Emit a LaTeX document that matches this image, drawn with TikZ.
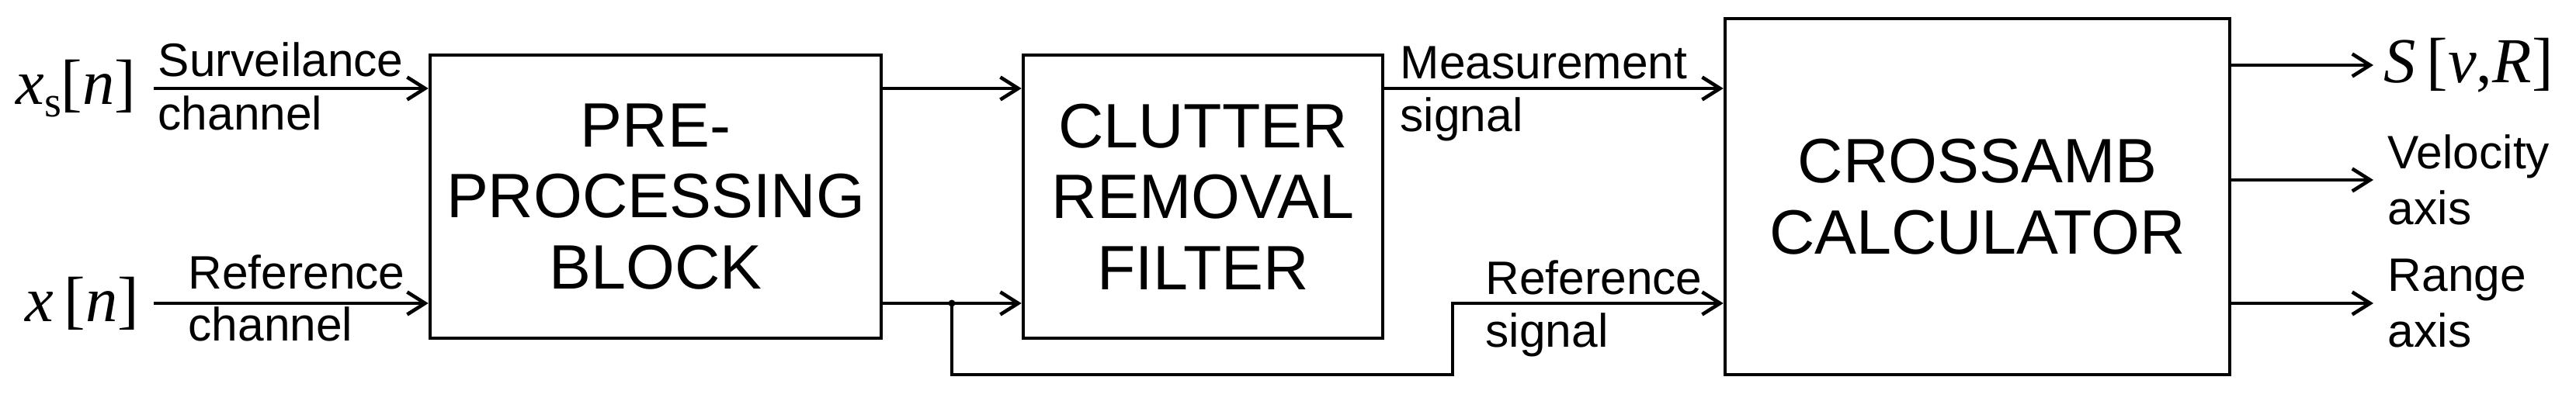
\documentclass[tikz,border=0pt]{standalone}
\usepackage{fontspec}
\setmainfont{Liberation Sans}
\newfontfamily\sigfont{Liberation Serif}
\usetikzlibrary{arrows.meta}

\tikzset{
  block/.style={draw, line width=1.3pt, inner sep=0pt, align=center,
    font=\fontsize{23}{26}\selectfont},
  sig/.style={line width=1.3pt,
    -{Straight Barb[length=2.3mm,width=2.9mm,line width=1.3pt]}},
  wire/.style={line width=1.3pt},
  lbl/.style={inner sep=0pt, font=\fontsize{17.2}{20.5}\selectfont},
  sym/.style={inner ysep=0pt, font=\sigfont\fontsize{23.5}{24}\selectfont},
}

\begin{document}
\begin{tikzpicture}[%
      x=1cm, y=1cm,
      ]
      \useasboundingbox (0,0) rectangle (33.18,5.26);

      % blocks
      \node[block, minimum width=5.81cm, minimum height=3.65cm] (preproc) at (8.445,2.725) {PRE-\\PROCESSING\\BLOCK};
      \node[block, minimum width=4.63cm, minimum height=3.65cm] (clutter) at (15.495,2.725) {CLUTTER\\REMOVAL\\FILTER};
      \node[block, minimum width=6.50cm, minimum height=4.59cm] (crossamb) at (25.47,2.725) {CROSSAMB\\CALCULATOR};

      \coordinate (upper) at (0,4.12);
      \coordinate (lower) at (0,1.35);

      % inputs
      \node[sym, anchor=east, inner xsep=2.2mm] (xs) at (1.98,4.12) {\itshape x\raisebox{-0.2em}{\upshape\fontsize{16}{16}\selectfont s}\upshape[\itshape n\upshape]};
      \node[sym, anchor=east, inner xsep=1.8mm] (xr) at (1.98,1.35) {\itshape x\,\upshape[\itshape n\upshape]};
      \draw[sig] (xs) -- (preproc.west |- xs);
      \draw[sig] (xr) -- (preproc.west |- xr);
      \node[lbl, anchor=base west] (survtop) at (2.03,4.27) {Surveilance};
      \node[lbl, anchor=base west] (survbot) at (2.03,3.58) {channel};
      \node[lbl, anchor=base west] (reftop) at (2.42,1.53) {Reference};
      \node[lbl, anchor=base west] (refbot) at (2.42,0.86) {channel};

      % between the blocks
      \draw[sig] (preproc.east |- upper) -- (clutter.west |- upper);
      \draw[sig] (preproc.east |- lower) -- (clutter.west |- lower);
      \coordinate (split) at (12.26,1.35);
      \coordinate (bus) at (18.71,0.43);
      \fill (split) circle (0.045);
      \draw[sig] (split) |- (bus) |- (crossamb.west |- lower);
      \draw[sig] (clutter.east |- upper) -- (crossamb.west |- upper);
      \node[lbl, anchor=base west] (meastop) at (18.03,4.24) {Measurement};
      \node[lbl, anchor=base west] (measbot) at (18.03,3.56) {signal};
      \node[lbl, anchor=base west] (rstop) at (19.13,1.46) {Reference};
      \node[lbl, anchor=base west] (rsbot) at (19.13,0.78) {signal};

      % outputs
      \node[sym, anchor=west, inner xsep=1.3mm] (amb) at (30.57,4.42) {\itshape S\,\upshape[\itshape v\upshape,\itshape R\upshape]};
      \node[lbl, anchor=west, align=left, inner xsep=1.8mm] (vel) at (30.57,2.94) {Velocity\\axis};
      \node[lbl, anchor=west, align=left, inner xsep=1.8mm] (rng) at (30.57,1.35) {Range\\axis};
      \draw[sig] (crossamb.east |- amb) -- (amb);
      \draw[sig] (crossamb.east |- vel) -- (vel);
      \draw[sig] (crossamb.east |- rng) -- (rng);
\end{tikzpicture}
\end{document}
